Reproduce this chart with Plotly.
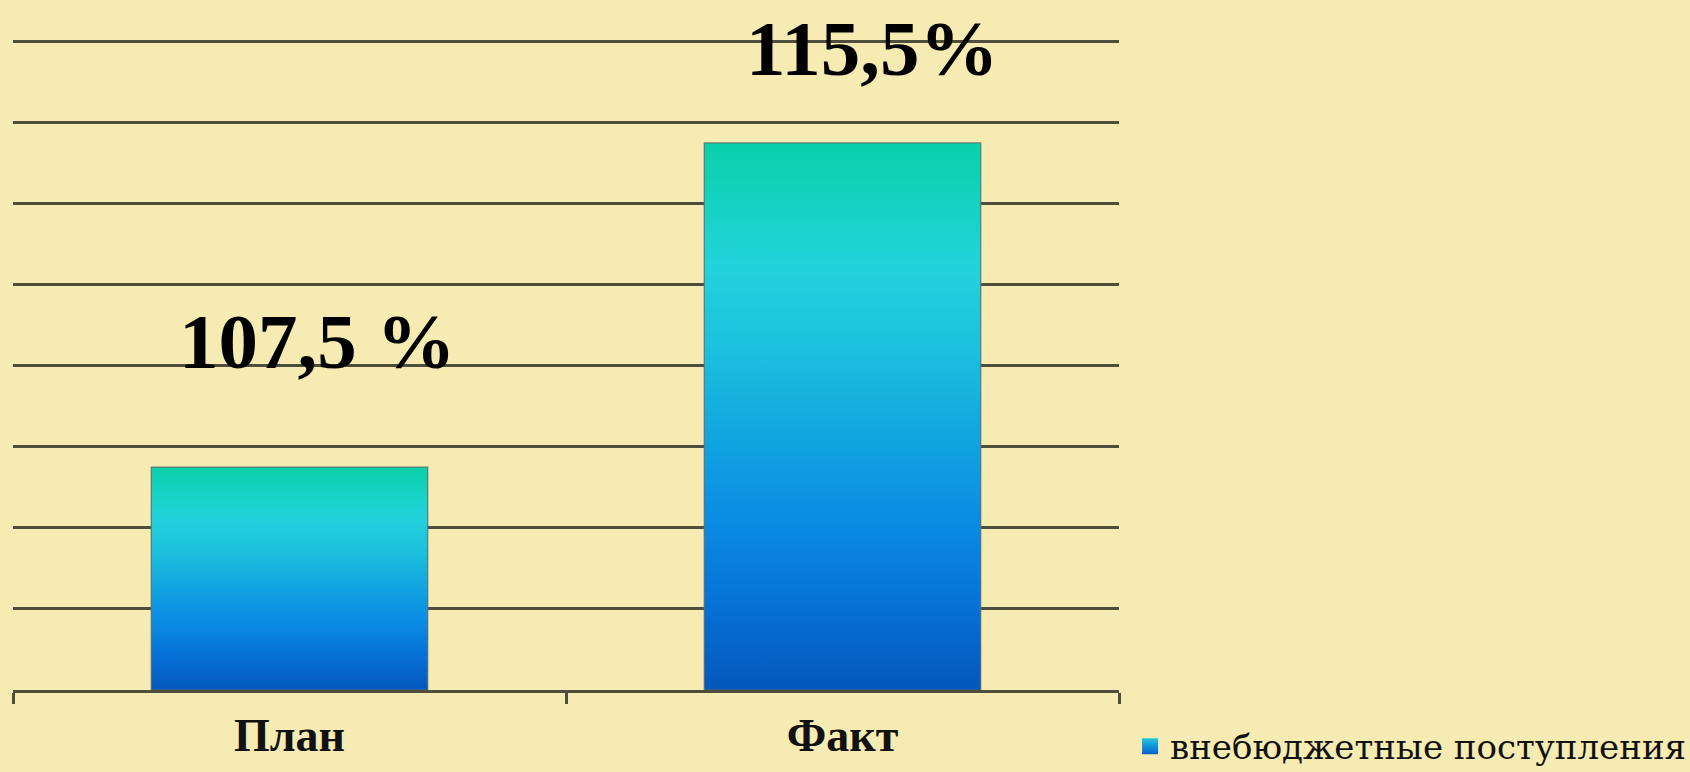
import plotly.graph_objects as go

# ---- data ----
categories = ["План", "Факт"]
values = [107.5, 115.5]
value_labels = ["107,5 %", "115,5%"]
series_name = "внебюджетные поступления"

# ---- style constants ----
y_min, y_max, y_step = 102, 118.04, 2
bar_width = 0.5
label_xshift = [28, 29]
label_yshift = [126, 94]
grid_color = "#4f4e3c"
bg = "#F6EBB2"
gradient = [
    [0.0, "#0557bb"],
    [0.15, "#0670d6"],
    [0.32, "#0a8ee4"],
    [0.47, "#12a6e0"],
    [0.62, "#1cc0de"],
    [0.78, "#22d3db"],
    [0.9, "#14d2c0"],
    [1.0, "#0ad0aa"],
]

xs = list(range(len(categories)))

fig = go.Figure()

# real bars (data marks)
fig.add_trace(go.Bar(
    x=xs, y=values, width=bar_width, name=series_name,
    marker=dict(color="#13a8e0", line=dict(width=0)),
    showlegend=False, hoverinfo="skip",
))

# gradient face of each bar, derived from the same data
for i, v in zip(xs, values):
    h = bar_width / 2
    fig.add_trace(go.Scatter(
        x=[i - h, i + h, i + h, i - h, i - h],
        y=[y_min, y_min, v, v, y_min],
        mode="lines", fill="toself",
        fillgradient=dict(type="vertical", colorscale=gradient),
        line=dict(color="rgba(95,110,110,0.85)", width=1.2),
        showlegend=False, hoverinfo="skip",
    ))

# legend entry (square swatch with gradient)
fig.add_trace(go.Scatter(
    x=[None], y=[None], mode="markers", name=series_name,
    marker=dict(symbol="square", size=16, color="#22c8e0",
                gradient=dict(type="vertical", color="#0660d0"),
                line=dict(width=0)),
    showlegend=True, hoverinfo="skip",
))

for i, (v, t) in enumerate(zip(values, value_labels)):
    fig.add_annotation(
        x=xs[i], y=v, text=t, showarrow=False,
        xanchor="center", yanchor="middle",
        xshift=label_xshift[i], yshift=label_yshift[i],
        font=dict(family="Liberation Serif", size=79, color="#000000", weight="bold"),
    )

fig.update_layout(
    width=1690, height=772,
    margin=dict(l=13, r=571, t=40, b=82, autoexpand=False),
    paper_bgcolor=bg, plot_bgcolor=bg,
    showlegend=True,
    legend=dict(
        x=1.01, y=-0.087, xanchor="left", yanchor="middle",
        font=dict(family="DejaVu Serif", size=34, color="#111111"),
        bgcolor="rgba(0,0,0,0)", borderwidth=0,
    ),
)

fig.update_xaxes(
    range=[-0.5, len(categories) - 0.5],
    tickvals=xs, ticktext=categories,
    ticks="", showgrid=False, zeroline=False,
    showline=True, linecolor=grid_color, linewidth=3,
    tickfont=dict(family="Liberation Serif", size=46, color="#111111", weight="bold"),
    ticklabelstandoff=3,
    minor=dict(tickvals=[-0.5, 0.5, 1.5], ticks="outside", ticklen=11,
               tickwidth=3, tickcolor=grid_color, showgrid=False),
)
fig.update_yaxes(
    range=[y_min, y_max], dtick=y_step, tick0=y_min,
    showticklabels=False, ticks="",
    showgrid=True, gridcolor=grid_color, gridwidth=3,
    zeroline=False, showline=False,
)

fig.write_html(
    "out.html",
    config={"displayModeBar": False},
    post_script="document.body.style.margin='0';document.body.style.padding='0';",
)
